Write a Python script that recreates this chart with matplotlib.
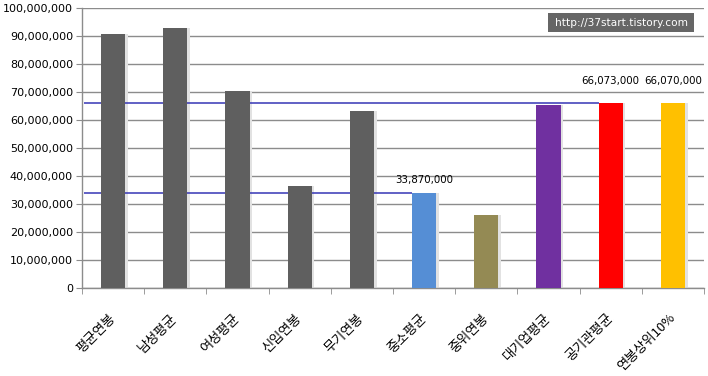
import matplotlib
matplotlib.use('Agg')
import matplotlib.pyplot as plt
from matplotlib.patches import Rectangle
from matplotlib.ticker import FuncFormatter, MultipleLocator
import numpy as np

# data
categories = ['평균연봉', '남성평균', '여성평균', '신입연봉', '무기연봉',
              '중소평균', '중위연봉', '대기업평균', '공기관평균', '연봉상위10%']
salaries = [91000000, 93100000, 70600000, 36400000, 63500000,
            33870000, 26300000, 65400000, 66073000, 66070000]
bar_colors = ['#5f5f5f', '#5f5f5f', '#5f5f5f', '#5f5f5f', '#5f5f5f',
              '#558ed5', '#948a54', '#7030a0', '#ff0000', '#ffc000']
labelled = {5: '33,870,000', 8: '66,073,000', 9: '66,070,000'}
ref_lines = [(66073000, 8), (33870000, 5)]  # value, bar index the line runs up to
watermark = 'http://37start.tistory.com'

W, H = 708, 376
fig = plt.figure(figsize=(W / 100, H / 100), dpi=100)
ax = fig.add_axes([82 / W, (H - 288.3) / H, 622 / W, 280 / H])

x = np.arange(len(categories))
bw = 0.39
grid_c = '#8c8c8c'

# soft shadow to the right of each bar
ax.bar(x + 0.04, salaries, width=bw, color='#e2e2e2', zorder=2)
ax.bar(x, salaries, width=bw, color=bar_colors, zorder=4)

for val, idx in ref_lines:
    ax.hlines(val, -0.47, idx - bw / 2, color='#3535b5', lw=1.1, zorder=3)

offsets = {5: 10, 8: 16, 9: 16}
for idx, txt in labelled.items():
    ax.annotate(txt, (x[idx], salaries[idx]), xytext=(0, offsets[idx]),
                textcoords='offset points', ha='center', va='center',
                fontsize=7.4, color='#000000')

ax.set_xlim(-0.5, len(categories) - 0.5)
ax.set_ylim(0, 100000000)
ax.yaxis.set_major_locator(MultipleLocator(10000000))
ax.yaxis.set_major_formatter(FuncFormatter(lambda v, p: f'{int(v):,}'))
ax.yaxis.grid(True, color=grid_c, lw=1.0, zorder=1)
ax.set_axisbelow(True)

for s in ['top', 'right']:
    ax.spines[s].set_visible(False)
for s in ['left', 'bottom']:
    ax.spines[s].set_color(grid_c)
    ax.spines[s].set_linewidth(1.0)

ax.tick_params(axis='y', length=4.5, color=grid_c, labelsize=8, pad=2)
ax.set_xticks(x)
ax.set_xticks(np.arange(-0.5, len(categories)), minor=True)
ax.tick_params(axis='x', which='major', length=0, pad=20)
ax.tick_params(axis='x', which='minor', length=4, color=grid_c)
ax.set_xticklabels(categories, family=['Noto Sans CJK KR', 'DejaVu Sans'], fontsize=9.5)
plt.setp(ax.get_xticklabels(), rotation=45, ha='right', va='center',
         rotation_mode='anchor')

# watermark box
fig.patches.append(Rectangle((548 / W, 1 - 32 / H), 146 / W, 19 / H,
                             transform=fig.transFigure, facecolor='#666666',
                             edgecolor='none', zorder=10))
fig.text(621 / W, 1 - 22.5 / H, watermark, color='white', fontsize=7.6,
         ha='center', va='center', zorder=11)

fig.savefig('out.png', dpi=100)
